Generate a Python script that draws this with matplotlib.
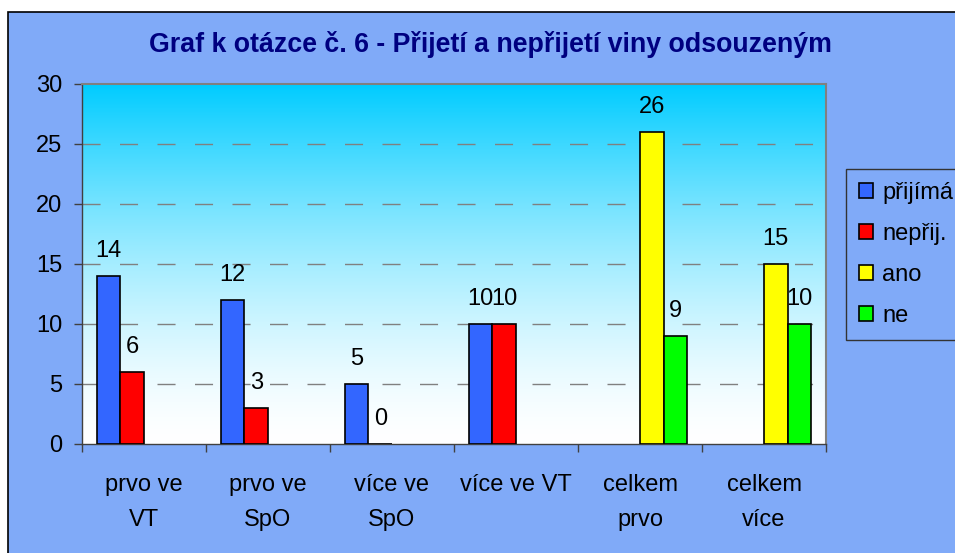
import numpy as np
import matplotlib.pyplot as plt
from matplotlib.patches import Rectangle

plt.rcParams['font.family'] = ['Liberation Sans', 'DejaVu Sans']
plt.rcParams['lines.scale_dashes'] = False

# values (nan = no bar in that group)
categories = ['prvo ve\nVT', 'prvo ve\nSpO', 'více ve\nSpO', 'více ve VT', 'celkem\nprvo', 'celkem\nvíce']
series_names = ['přijímá', 'nepřij.', 'ano', 'ne']
prijima = [14, 12, 5, 10, np.nan, np.nan]
neprij = [6, 3, 0, 10, np.nan, np.nan]
ano = [np.nan, np.nan, np.nan, np.nan, 26, 15]
ne = [np.nan, np.nan, np.nan, np.nan, 9, 10]
colors = ['#3366FF', '#FF0000', '#FFFF00', '#00FF00']
yticks = [0, 5, 10, 15, 20, 25, 30]
title = 'Graf k otázce č. 6 - Přijetí a nepřijetí viny odsouzeným'

bg = '#80AAF8'
W, H = 955, 553

fig = plt.figure(figsize=(9.55, 5.53), dpi=100, facecolor='white')

# chart area with black frame (runs off the right and bottom edge)
fig.patches.append(Rectangle((8 / W, -0.1), 1.2, 1.1 - 12 / H, transform=fig.transFigure,
                             facecolor=bg, edgecolor='black', linewidth=1.2, zorder=-10))

ax = fig.add_axes([82 / W, 1 - 444 / H, (826 - 82) / W, (444 - 84) / H])
ax.set_facecolor('none')

# plot area gradient: cyan at top fading to white at the bottom
t = np.linspace(1, 0, 256) ** 1.5
top = np.array([0, 204, 255]) / 255
grad = (1 - t)[:, None] + t[:, None] * top[None, :]
ax.imshow(grad[:, None, :], aspect='auto', extent=(-0.5, 5.5, 0, 30), zorder=0)

x = np.arange(len(categories))
w = 0.19
offsets = (np.arange(4) - 1.5) * w
for i, (vals, name, c) in enumerate(zip([prijima, neprij, ano, ne], series_names, colors)):
    vals = np.array(vals, dtype=float)
    m = ~np.isnan(vals)
    ax.bar(x[m] + offsets[i], vals[m], w, color=c, edgecolor='black', linewidth=1.2,
           label=name, zorder=3)
    for xb, v in zip(x[m] + offsets[i], vals[m]):
        ax.annotate(f'{v:g}', (xb, v), xytext=(0, 13.7), textcoords='offset points',
                    ha='center', va='baseline', fontsize=17, zorder=4)

for y in yticks[1:-1]:
    ax.axhline(y, color='#808080', linewidth=1, linestyle=(0, (13, 14)), zorder=1)

ax.set_xlim(-0.5, 5.5)
ax.set_ylim(0, 30)

for s in ['top', 'right']:
    ax.spines[s].set_color('#808080')
    ax.spines[s].set_linewidth(1.5)
for s in ['left', 'bottom']:
    ax.spines[s].set_color('#404040')
    ax.spines[s].set_linewidth(1)

ax.set_yticks(yticks)
ax.tick_params(axis='y', length=5.8, width=1, color='#404040', pad=8.6, labelsize=17)
ax.set_xticks(x)
ax.set_xticklabels(categories)
ax.set_xticks(np.arange(-0.5, 6, 1), minor=True)
ax.tick_params(axis='x', which='major', length=0, pad=21.5, labelsize=17)
ax.tick_params(axis='x', which='minor', length=5.8, width=1, color='#404040')
for lbl in ax.get_xticklabels():
    lbl.set_linespacing(1.75)

fig.text(490 / W, 1 - 45 / H, title, ha='center', va='center', fontsize=19.3,
         fontweight='bold', color='#000080')

leg = ax.legend(loc='upper left', bbox_to_anchor=(846 / W, 1 - 169 / H),
                bbox_transform=fig.transFigure, fontsize=17, frameon=True,
                facecolor=bg, edgecolor='#333333', framealpha=1, fancybox=False,
                handlelength=0.6, handleheight=0.6, handletextpad=0.38,
                borderpad=0.55, labelspacing=0.8, borderaxespad=0)
leg.get_frame().set_linewidth(1)

plt.savefig('out.png', dpi=100, facecolor=fig.get_facecolor())
